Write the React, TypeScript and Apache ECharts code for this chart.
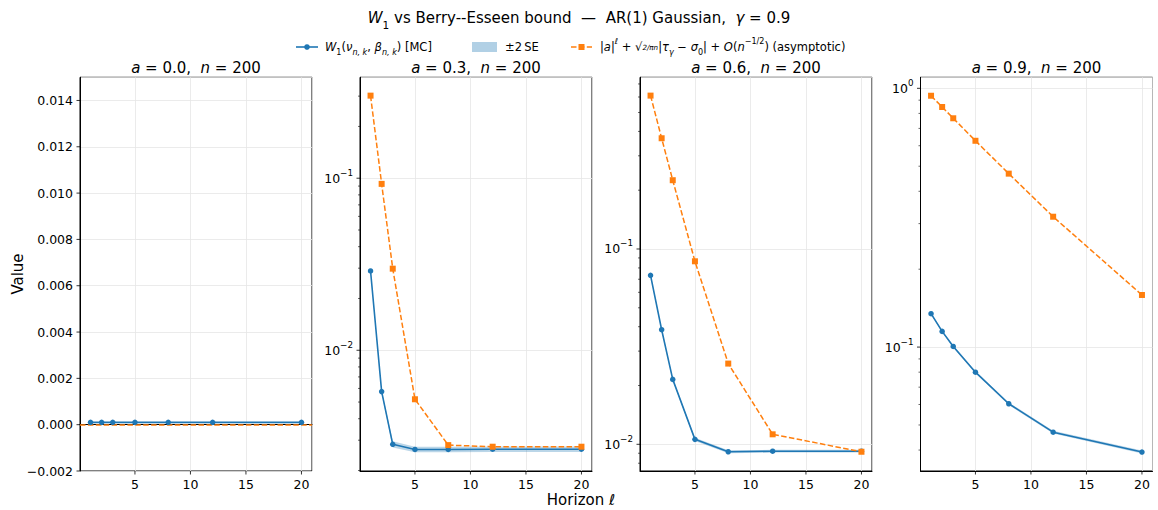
import React, { useEffect, useRef } from "react";
import * as echarts from "echarts";

// ---------------- data ----------------
const horizons = [1, 2, 3, 5, 8, 12, 20];
const panelLabels = ["0.0", "0.3", "0.6", "0.9"];
const sampleSize = 200;

const w1A00 = [0.0001, 0.0001, 0.0001, 0.0001, 0.0001, 0.0001, 0.0001];
const w1A03 = [0.0289, 0.00575, 0.00284, 0.00265, 0.00265, 0.00266, 0.00266];
const w1A06 = [0.0733, 0.0386, 0.0215, 0.0106, 0.00916, 0.00922, 0.00922];
const w1A09 = [0.1346, 0.115, 0.1006, 0.08, 0.0604, 0.0469, 0.0393];

const twoSeA00 = [0.00001, 0.00001, 0.00001, 0.00001, 0.00001, 0.00001, 0.00001];
const twoSeA03 = [0.0006, 0.00012, 0.00012, 0.0001, 0.0001, 0.0001, 0.0001];
const twoSeA06 = [0.001, 0.0005, 0.0003, 0.0002, 0.00015, 0.00015, 0.00015];
const twoSeA09 = [0.001, 0.001, 0.001, 0.0008, 0.0007, 0.0006, 0.0005];

const boundA00 = [0, 0, 0, 0, 0, 0, 0];
const boundA03 = [0.302, 0.0927, 0.0298, 0.00519, 0.00281, 0.00275, 0.00275];
const boundA06 = [0.61, 0.369, 0.225, 0.0865, 0.0259, 0.01125, 0.00916];
const boundA09 = [0.936, 0.847, 0.766, 0.627, 0.468, 0.319, 0.159];

const xTicks = [5, 10, 15, 20];
const linearYTicks = [-0.002, 0, 0.002, 0.004, 0.006, 0.008, 0.01, 0.012, 0.014];

// axis limits
const xLim = [0.05, 20.95];
const yLims = [
  [-0.002, 0.015],
  [0.001987, 0.386],
  [0.0073, 0.757],
  [0.0332, 1.103],
];

// ---------------- layout ----------------
const FONT = "DejaVu Sans";
const BLUE = "#1f77b4";
const ORANGE = "#ff7f0e";
const gridLefts = [80, 360, 640, 920.5];
const gridTop = 77.3;
const gridW = 232;
const gridH = 393.7;

const makeRich = (size: number, color = "#000") => {
  const L = size * 1.6;
  return {
    n: { fontFamily: FONT, fontSize: size, lineHeight: L, verticalAlign: "middle", color },
    i: { fontFamily: FONT, fontSize: size, fontStyle: "italic", lineHeight: L, verticalAlign: "middle", color },
    sup: { fontFamily: FONT, fontSize: size * 0.7, lineHeight: size * 0.86, verticalAlign: "top", color },
    supi: { fontFamily: FONT, fontSize: size * 0.7, fontStyle: "italic", lineHeight: size * 0.86, verticalAlign: "top", color },
    sub: { fontFamily: FONT, fontSize: size * 0.7, lineHeight: size * 1.24, verticalAlign: "bottom", color },
    subi: { fontFamily: FONT, fontSize: size * 0.7, fontStyle: "italic", lineHeight: size * 1.24, verticalAlign: "bottom", color },
    frac: { fontFamily: FONT, fontSize: size * 0.62, fontStyle: "italic", lineHeight: L, verticalAlign: "middle", color },
  };
};

const plainRich = (size: number, lh = 1.15) => ({
  n: { fontFamily: FONT, fontSize: size, lineHeight: size * lh, color: "#000" },
  i: { fontFamily: FONT, fontSize: size, fontStyle: "italic", lineHeight: size * lh, color: "#000" },
});

const minus = (s: string) => s.replace("-", "\u2212");

export default function App() {
  const ref = useRef<HTMLDivElement>(null);

  useEffect(() => {
    if (!ref.current) return;
    const chart = echarts.init(ref.current, undefined, { renderer: "svg" });

    const panels = [
      { w1: w1A00, se: twoSeA00, bound: boundA00, log: false },
      { w1: w1A03, se: twoSeA03, bound: boundA03, log: true },
      { w1: w1A06, se: twoSeA06, bound: boundA06, log: true },
      { w1: w1A09, se: twoSeA09, bound: boundA09, log: true },
    ];

    const grids: any[] = [];
    const xAxes: any[] = [];
    const yAxes: any[] = [];
    const series: any[] = [];
    const graphics: any[] = [];

    const splitLine = { show: true, lineStyle: { color: "#e6e6e6", width: 0.8 } };
    const labelRich = makeRich(12.5);

    panels.forEach((p, k) => {
      const [yMin, yMax] = yLims[k];
      grids.push({
        left: gridLefts[k],
        top: gridTop,
        width: gridW,
        height: gridH,
        show: true,
        borderColor: "#000",
        borderWidth: 1,
        containLabel: false,
      });
      xAxes.push({
        type: "value",
        gridIndex: k,
        min: xLim[0],
        max: xLim[1],
        splitNumber: 4,
        axisLine: { show: true, lineStyle: { color: "#000", width: 1 } },
        axisTick: { show: false },
        splitLine,
        axisLabel: {
          show: true,
          margin: 6.5,
          color: "#000",
          fontFamily: FONT,
          fontSize: 12.5,
          showMinLabel: false,
          showMaxLabel: false,
          formatter: (v: number) =>
            xTicks.some((t) => Math.abs(t - v) < 1e-6) ? String(Math.round(v)) : "",
        },
      });
      if (p.log) {
        yAxes.push({
          type: "log",
          logBase: 10,
          gridIndex: k,
          min: yMin,
          max: yMax,
          axisLine: { show: true, lineStyle: { color: "#000", width: 1 } },
          axisTick: { show: false },
          splitLine,
          axisLabel: {
            show: true,
            margin: 7,
            color: "#000",
            rich: labelRich,
            formatter: (v: number) => {
              const e = Math.log10(v);
              if (Math.abs(e - Math.round(e)) > 1e-6) return "";
              return `{n|10}{sup|${minus(String(Math.round(e)))}}`;
            },
          },
        });
      } else {
        yAxes.push({
          type: "value",
          gridIndex: k,
          min: yMin,
          max: yMax,
          interval: 0.002,
          axisLine: { show: true, lineStyle: { color: "#000", width: 1 } },
          axisTick: { show: false },
          splitLine,
          axisLabel: {
            show: true,
            margin: 7,
            color: "#000",
            fontFamily: FONT,
            fontSize: 12.5,
            showMaxLabel: false,
            formatter: (v: number) =>
              linearYTicks.some((t) => Math.abs(t - v) < 1e-9) ? minus(v.toFixed(3)) : "",
          },
        });
      }

      // ticks (major and minor)
      const tickData: number[][] = [];
      xTicks.forEach((t) => tickData.push([t, yMin, 0]));
      if (p.log) {
        for (let e = Math.floor(Math.log10(yMin)); e <= Math.ceil(Math.log10(yMax)); e++) {
          for (let m = 1; m <= 9; m++) {
            const v = m * Math.pow(10, e);
            if (v >= yMin && v <= yMax) tickData.push([xLim[0], v, m === 1 ? 1 : 2]);
          }
        }
      } else {
        linearYTicks.forEach((t) => tickData.push([xLim[0], t, 1]));
      }
      series.push({
        type: "custom",
        xAxisIndex: k,
        yAxisIndex: k,
        silent: true,
        clip: false,
        z: 5,
        data: tickData,
        encode: { x: 0, y: 1 },
        renderItem: (params: any, api: any) => {
          const kind = api.value(2);
          const pt = api.coord([api.value(0), api.value(1)]);
          if (kind === 0) {
            return {
              type: "line",
              shape: { x1: pt[0], y1: pt[1], x2: pt[0], y2: pt[1] + 3.5 },
              style: { stroke: "#000", lineWidth: 0.8 },
            };
          }
          const len = kind === 1 ? 3.5 : 2;
          return {
            type: "line",
            shape: { x1: pt[0] - len, y1: pt[1], x2: pt[0], y2: pt[1] },
            style: { stroke: "#000", lineWidth: kind === 1 ? 0.8 : 0.6 },
          };
        },
      });

      // ±2 SE band
      const bandData = horizons.map((x, j) => [x, p.w1[j] - p.se[j], p.w1[j] + p.se[j]]);
      series.push({
        type: "custom",
        name: "±2 SE",
        xAxisIndex: k,
        yAxisIndex: k,
        silent: true,
        z: 2,
        data: bandData,
        encode: { x: 0, y: [1, 2] },
        renderItem: (params: any, api: any) => {
          if (params.dataIndex !== 0) return null;
          const upper = bandData.map((d) => api.coord([d[0], d[2]]));
          const lower = bandData.map((d) => api.coord([d[0], d[1]])).reverse();
          return {
            type: "polygon",
            shape: { points: upper.concat(lower) },
            style: { fill: "rgba(31,119,180,0.3)", stroke: "none" },
          };
        },
      });

      // W1 line
      const w1Series: any = {
        type: "line",
        name: "W1",
        xAxisIndex: k,
        yAxisIndex: k,
        data: horizons.map((x, j) => [x, p.w1[j]]),
        symbol: "circle",
        symbolSize: 5.5,
        showSymbol: true,
        lineStyle: { color: BLUE, width: 1.6 },
        itemStyle: { color: BLUE },
        z: 4,
      };
      series.push(w1Series);

      if (p.log) {
        series.push({
          type: "line",
          name: "bound",
          xAxisIndex: k,
          yAxisIndex: k,
          data: horizons.map((x, j) => [x, p.bound[j]]),
          symbol: "rect",
          symbolSize: 6,
          showSymbol: true,
          lineStyle: { color: ORANGE, width: 1.5, type: [5.5, 2.4] },
          itemStyle: { color: ORANGE },
          z: 4,
        });
      } else {
        w1Series.markLine = {
          silent: true,
          symbol: ["none", "none"],
          label: { show: false },
          lineStyle: { color: ORANGE, width: 1.5, type: [5.5, 2.4] },
          data: [{ yAxis: p.bound[0] }],
          z: 3,
        };
      }

      // panel title
      graphics.push({
        type: "text",
        x: gridLefts[k] + gridW / 2,
        y: 68,
        style: {
          text: `{i|a}{n| = ${panelLabels[k]},  }{i|n}{n| = ${sampleSize}}`,
          rich: plainRich(15),
          align: "center",
          verticalAlign: "middle",
        },
      });
    });

    // super title
    graphics.push({
      type: "text",
      x: 579,
      y: 18,
      style: {
        text: "{i|W}{sub|1}{n| vs Berry--Esseen bound  \u2014  AR(1) Gaussian,  }{i|\u03b3}{n| = 0.9}",
        rich: makeRich(15),
        align: "center",
        verticalAlign: "middle",
      },
    });

    // axis labels
    graphics.push({
      type: "text",
      x: 18,
      y: 274,
      rotation: Math.PI / 2,
      style: {
        text: "Value",
        fontFamily: FONT,
        fontSize: 15,
        fill: "#000",
        align: "center",
        verticalAlign: "middle",
      },
    });
    graphics.push({
      type: "text",
      x: 581,
      y: 500,
      style: {
        text: "{n|Horizon }{i|\u2113}",
        rich: plainRich(15, 1.0),
        align: "center",
        verticalAlign: "middle",
      },
    });

    // legend
    const ly = 47;
    const lr = makeRich(11.5);
    graphics.push(
      { type: "line", shape: { x1: 296, y1: ly, x2: 318, y2: ly }, style: { stroke: BLUE, lineWidth: 1.6 } },
      { type: "circle", shape: { cx: 307, cy: ly, r: 2.8 }, style: { fill: BLUE } },
      {
        type: "text",
        x: 325,
        y: ly,
        style: {
          text: "{i|W}{sub|1}{n|(}{i|\u03bd}{subi|n, k}{n|, }{i|\u03b2}{subi|n, k}{n|) [MC]}",
          rich: lr,
          align: "left",
          verticalAlign: "middle",
        },
      },
      { type: "rect", shape: { x: 472, y: ly - 5, width: 25, height: 10 }, style: { fill: "rgba(31,119,180,0.35)" } },
      {
        type: "text",
        x: 505,
        y: ly,
        style: { text: "{n|\u00b12\u2009SE}", rich: lr, align: "left", verticalAlign: "middle" },
      },
      {
        type: "line",
        shape: { x1: 571, y1: ly, x2: 592, y2: ly },
        style: { stroke: ORANGE, lineWidth: 1.5, lineDash: [5.5, 2.4] },
      },
      { type: "rect", shape: { x: 578.5, y: ly - 3, width: 6, height: 6 }, style: { fill: ORANGE } },
      {
        type: "text",
        x: 600,
        y: ly,
        style: {
          text:
            "{n||}{i|a}{n||}{supi|\u2113}{n| + \u221a}{frac|2/\u03c0n}{n||}{i|\u03c4}{subi|\u03b3}{n| \u2212 }{i|\u03c3}{sub|0}{n|| + }{i|O}{n|(}{i|n}{sup|\u22121/2}{n|) (asymptotic)}",
          rich: lr,
          align: "left",
          verticalAlign: "middle",
        },
      }
    );

    chart.setOption({
      animation: false,
      backgroundColor: "#fff",
      grid: grids,
      xAxis: xAxes,
      yAxis: yAxes,
      series,
      graphic: graphics,
    });

    return () => chart.dispose();
  }, []);

  return (
    <div
      ref={ref}
      style={{ position: "absolute", left: 0, top: 0, width: 1158, height: 510 }}
    />
  );
}
